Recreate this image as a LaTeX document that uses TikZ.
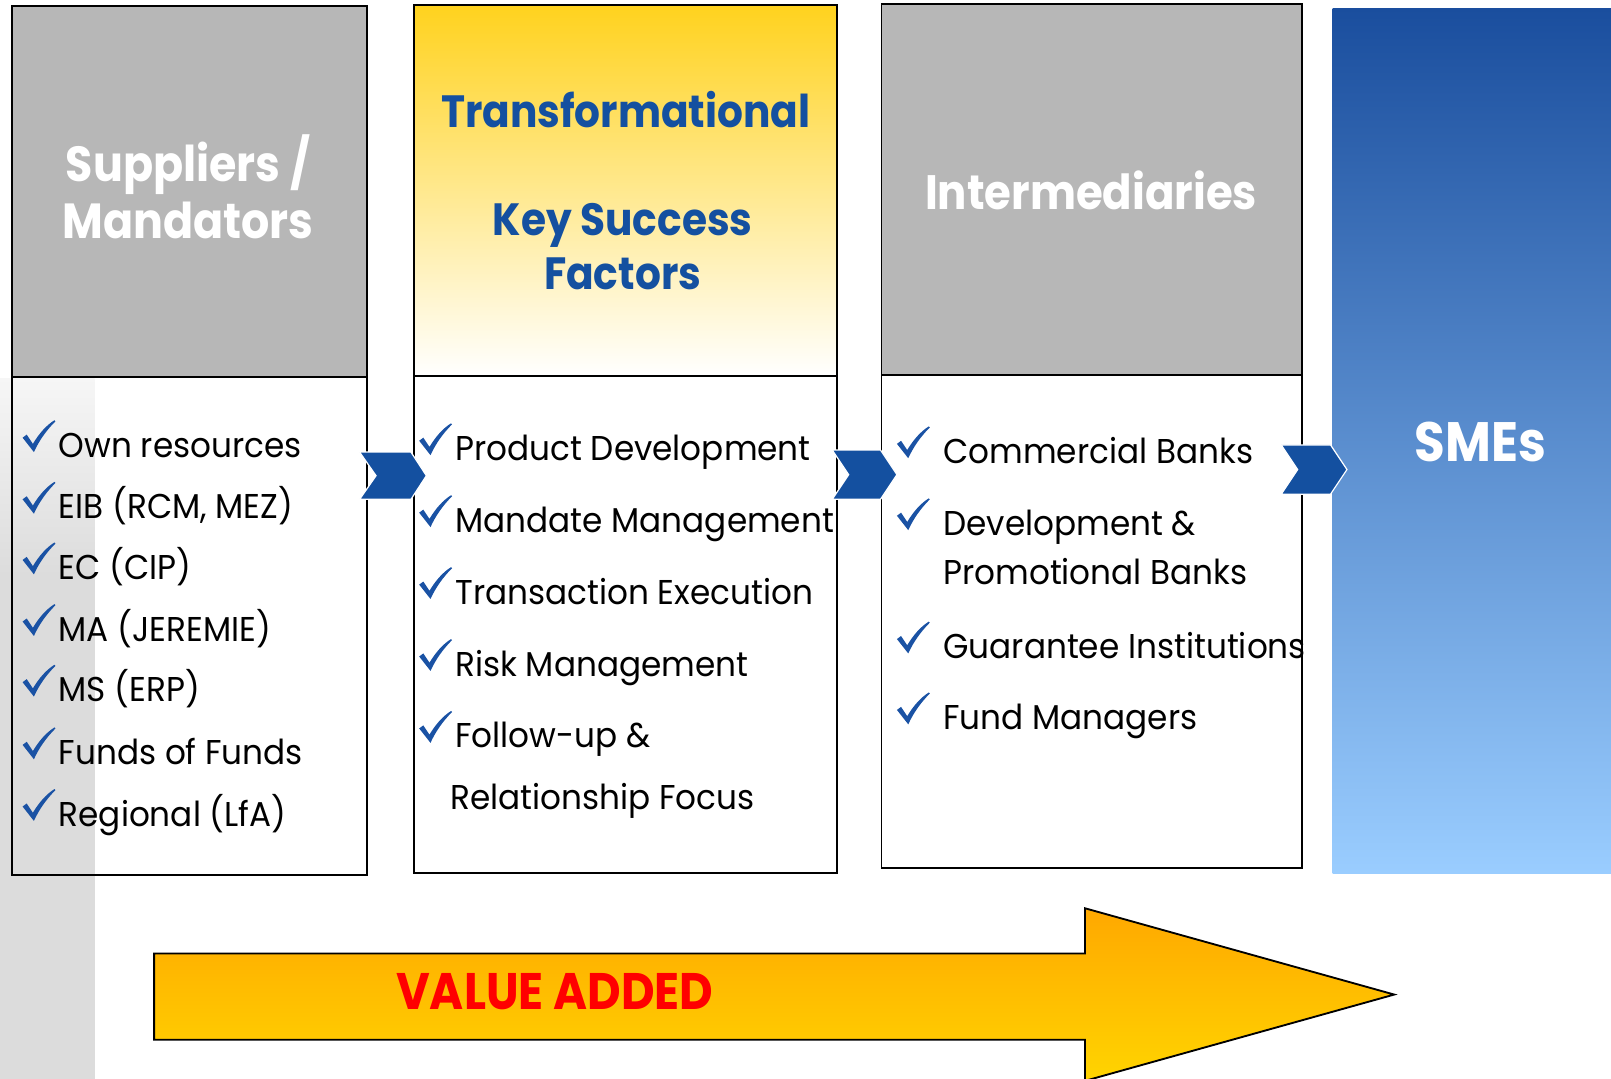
\documentclass[tikz,border=0pt]{standalone}
\usepackage{fontspec}
\setmainfont{Poppins}[FakeStretch=0.95]
\newfontfamily\hfont{Poppins}[FakeStretch=0.9]
\definecolor{hdrgray}{HTML}{B7B7B7}
\definecolor{titleblue}{HTML}{1450A0}
\definecolor{chkblue}{HTML}{1A52A4}
\definecolor{chevblue}{HTML}{1450A0}
\definecolor{smetop}{HTML}{1A4E9E}
\definecolor{smebot}{HTML}{9ACDFF}
\definecolor{yelltop}{HTML}{FFD21E}
\definecolor{arrtop}{HTML}{FFA800}
\definecolor{arrbot}{HTML}{FFD400}
\definecolor{stripA}{HTML}{F6F6F6}
\definecolor{stripB}{HTML}{DCDCDC}
\definecolor{vared}{HTML}{FF0000}
\begin{document}
\begin{tikzpicture}[x=1pt,y=-1pt,
  boxline/.style={draw=black, line width=1.8pt},
  hdr/.style={font=\hfont\bfseries\fontsize{44}{55}\selectfont, align=center, inner sep=0pt},
  item/.style={anchor=base west, inner sep=0pt, font=\fontsize{33.5}{40}\selectfont},
  chev/.style={fill=chevblue, draw=white, line width=1.2pt},
  chkmark/.pic={\fill[chkblue] (-10,-13) -- (-6,-16) -- (0,-7)
      .. controls (6,-17) and (13,-25) .. (21,-30) -- (22,-29)
      .. controls (13,-20) and (6,-10) .. (1,1) -- cycle;}]
\useasboundingbox (0,0) rectangle (1568,1050);
% box fills
\fill[hdrgray] (12,6) rectangle (357,367);
\fill[white] (12,367) rectangle (357,852);
\shade[top color=yelltop, bottom color=white] (403,5) rectangle (815,366);
\fill[hdrgray] (858,4) rectangle (1267,365);
\shade[top color=smetop, bottom color=smebot] (1297,8) rectangle (1568,850);
% grey strip
\shade[top color=stripA, bottom color=stripB] (0,368) rectangle (92,560);
\fill[stripB] (0,559.5) rectangle (92,1050);
% borders
\draw[boxline] (12,6) rectangle (357,852);
\draw[boxline] (12,367) -- (357,367);
\draw[boxline] (403,5) rectangle (815,850);
\draw[boxline] (403,366) -- (815,366);
\draw[boxline] (858,4) rectangle (1267,845);
\draw[boxline] (858,365) -- (1267,365);
% chevrons
\filldraw[chev] (350,440) -- (400,440) -- (415,463) -- (400,486) -- (350,486) -- (366,463) -- cycle;
\filldraw[chev] (810,438) -- (857,438) -- (873,462) -- (857,486) -- (810,486) -- (826,462) -- cycle;
\filldraw[chev] (1247,433) -- (1295,433) -- (1311,457) -- (1295,481) -- (1247,481) -- (1263,457) -- cycle;
% value added arrow
\shadedraw[top color=arrtop, bottom color=arrbot, draw=black, line width=1.8pt]
  (150,928) -- (1056,928) -- (1056,884) -- (1357,968) -- (1056,1052) -- (1056,1012) -- (150,1012) -- cycle;
\node[hdr, text=vared, font=\hfont\bfseries\fontsize{50}{60}\selectfont] (va) at (540,965) {VALUE ADDED};
% headers
\node[hdr, text=white, font=\hfont\bfseries\fontsize{48}{55}\selectfont] (sup) at (183,182) {Suppliers /\\Mandators};
\node[hdr, text=titleblue] (tf) at (609,107) {Transformational};
\node[hdr, text=titleblue, font=\hfont\bfseries\fontsize{44}{53}\selectfont] (ksf) at (606,240) {Key Success\\Factors};
\node[hdr, text=white, font=\hfont\bfseries\fontsize{47}{55}\selectfont] (int) at (1062,185) {Intermediaries};
\node[hdr, text=white, font=\hfont\bfseries\fontsize{54}{60}\selectfont] (sme) at (1441,430) {SMEs};
% column 1
\node[item] (a1) at (57,445) {Own resources};
\node[item] (a2) at (57,505) {EIB (RCM, MEZ)};
\node[item] (a3) at (57,564) {EC (CIP)};
\node[item] (a4) at (57,624) {MA (JEREMIE)};
\node[item] (a5) at (57,683) {MS (ERP)};
\node[item] (a6) at (57,744) {Funds of Funds};
\node[item] (a7) at (57,804) {Regional (LfA)};
\foreach \y in {445,505,564,624,683,744,804}
  \pic at (32,\y-6) {chkmark};
% column 2
\node[item] (b1) at (443,448) {Product Development};
\node[item] (b2) at (443,518) {Mandate Management};
\node[item] (b3) at (443,588) {Transaction Execution};
\node[item] (b4) at (443,658) {Risk Management};
\node[item] (b5) at (443,728) {Follow-up \&};
\node[item] (b6) at (438,788) {Relationship Focus};
\foreach \y in {448,518,588,658,728}
  \pic at (418,\y-6) {chkmark};
% column 3
\node[item] (c1) at (918,451) {Commercial Banks};
\node[item] (c2) at (918,521) {Development \&};
\node[item] (c3) at (918,569) {Promotional Banks};
\node[item] (c4) at (918,641) {Guarantee Institutions};
\node[item] (c5) at (918,710) {Fund Managers};
\foreach \y in {451,521,641,710}
  \pic at (883,\y-6) {chkmark};
\end{tikzpicture}
\end{document}
